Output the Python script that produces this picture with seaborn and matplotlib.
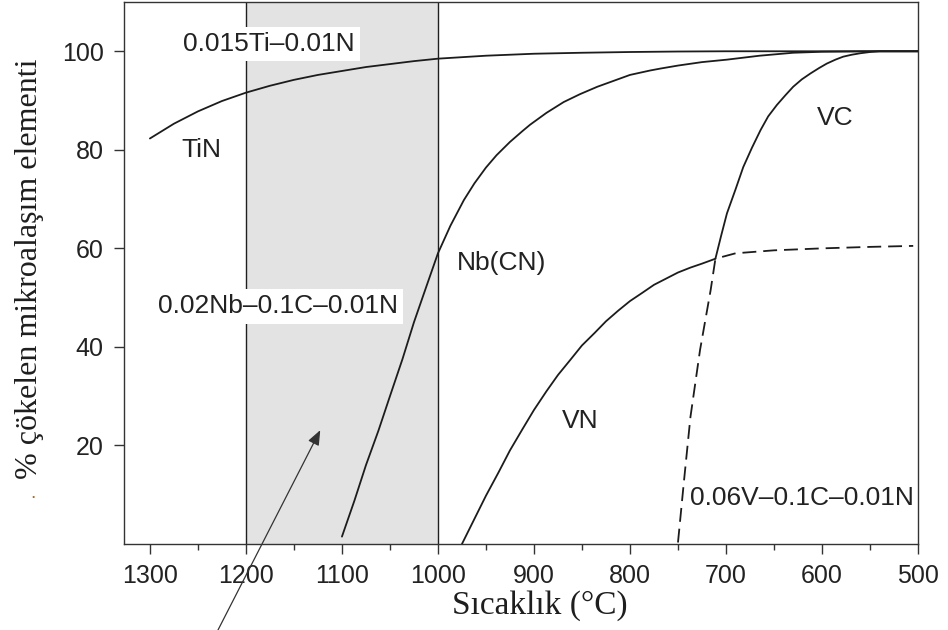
import matplotlib
matplotlib.use("Agg")
import matplotlib.pyplot as plt
import seaborn as sns

# ---------------- data ----------------
tin_temp = [1300, 1275, 1250, 1225, 1200, 1175, 1150, 1125, 1100, 1075, 1050, 1025, 1000,
            950, 900, 850, 800, 750, 700, 600, 500]
tin_pct = [82.3, 85.3, 87.8, 89.9, 91.6, 93.0, 94.2, 95.2, 96.0, 96.8, 97.4, 98.0, 98.5,
           99.1, 99.5, 99.7, 99.85, 99.95, 100, 100, 100]

nb_temp = [1100, 1087, 1075, 1062, 1050, 1037, 1025, 1012, 1000, 987, 973, 962, 950, 939,
           925, 912, 904, 887, 869, 852, 834, 817, 800, 779, 768, 750, 725, 699, 665,
           630, 600, 550, 500]
nb_pct = [1.5, 8.8, 16.0, 23.0, 30.0, 37.5, 45.0, 52.3, 59.0, 64.6, 69.8, 73.2, 76.4, 78.9,
          81.6, 83.8, 85.1, 87.5, 89.7, 91.3, 92.8, 94.0, 95.2, 96.1, 96.5, 97.1, 97.8, 98.3,
          99.1, 99.7, 99.9, 100, 100]

vn_temp = [975, 962, 950, 937, 925, 912, 900, 887, 875, 862, 850, 837, 825, 812, 800,
           787, 775, 762, 750, 737, 725, 711]
vn_pct = [0.0, 5.1, 9.8, 14.5, 19.0, 23.3, 27.2, 31.0, 34.3, 37.4, 40.3, 42.8, 45.2,
          47.4, 49.3, 51.0, 52.6, 53.9, 55.1, 56.1, 56.9, 57.9]

vn_ext_temp = [711, 690, 650, 600, 550, 505]
vn_ext_pct = [57.9, 59.0, 59.6, 60.0, 60.3, 60.5]

vc_low_temp = [750, 744, 737, 727, 716, 711]
vc_low_pct = [0.3, 12.3, 25.8, 39.4, 51.5, 57.9]

vc_temp = [711, 705, 699, 690, 682, 673, 664, 656, 647, 638, 630, 621, 612, 603, 595,
           586, 578, 569, 560, 550, 540, 520, 500]
vc_pct = [57.9, 62.6, 67.1, 72.0, 76.5, 80.4, 84.0, 86.8, 89.1, 91.1, 92.8, 94.3, 95.5,
          96.6, 97.5, 98.3, 98.9, 99.3, 99.6, 99.85, 100, 100, 100]

shaded_bounds = [1200, 1000]
x_major = [1300, 1200, 1100, 1000, 900, 800, 700, 600, 500]
x_minor = [1250, 1150, 1050, 950, 850, 750, 650, 550]
y_major = [20, 40, 60, 80, 100]

curve_labels = ["TiN", "Nb(CN)", "VN", "VC"]
alloy_labels = ["0.015Ti\u20130.01N", "0.02Nb\u20130.1C\u20130.01N", "0.06V\u20130.1C\u20130.01N"]
x_title = "S\u0131cakl\u0131k (\u00b0C)"
y_title = "% \u00e7\u00f6kelen mikroala\u015f\u0131m elementi"

# ---------------- style ----------------
sns.set_theme(style="ticks")
plt.rcParams["font.family"] = ["Liberation Sans", "DejaVu Sans"]
plt.rcParams["lines.scale_dashes"] = False
plt.rcParams["lines.solid_joinstyle"] = "round"

fig = plt.figure(figsize=(9.48, 6.3), dpi=100)
ax = fig.add_axes([124 / 948, 1 - 544 / 630, (918 - 124) / 948, (544 - 2) / 630])

ax.axvspan(shaded_bounds[0], shaded_bounds[1], color="#e3e3e3", lw=0, zorder=0)
for xv in shaded_bounds:
    ax.axvline(xv, color="#1f1f1f", lw=1.0, zorder=1)

line_kw = dict(color="#1c1c1c", lw=1.3, sort=False, estimator=None, ax=ax, legend=False)
dash = (10, 5)
sns.lineplot(x=tin_temp, y=tin_pct, zorder=3, **line_kw)
sns.lineplot(x=nb_temp, y=nb_pct, zorder=3, **line_kw)
sns.lineplot(x=vn_temp, y=vn_pct, zorder=3, **line_kw)
sns.lineplot(x=vn_ext_temp, y=vn_ext_pct, linestyle=(10, dash), zorder=3, **line_kw)
sns.lineplot(x=vc_low_temp, y=vc_low_pct, linestyle=(0, dash), zorder=3, **line_kw)
sns.lineplot(x=vc_temp, y=vc_pct, zorder=3, **line_kw)

ax.set_xlim(1327, 500)
ax.set_ylim(0, 110)
ax.set_xticks(x_major)
ax.set_xticks(x_minor, minor=True)
ax.set_yticks(y_major)
ax.set_xticklabels([str(v) for v in x_major])
ax.set_yticklabels([str(v) for v in y_major])
ax.tick_params(axis="both", which="major", direction="out", length=7.5, width=1.0,
               color="#333333", labelsize=18, labelcolor="#222222", pad=7)
ax.tick_params(axis="x", which="minor", direction="out", length=4, width=1.0, color="#333333")
ax.tick_params(axis="y", which="minor", length=0)
for sp in ax.spines.values():
    sp.set_visible(True)
    sp.set_color("#333333")
    sp.set_linewidth(1.0)
ax.set_xlabel("")
ax.set_ylabel("")

txt_kw = dict(ha="center", va="baseline", fontsize=19, color="#222222", zorder=5)
box = dict(boxstyle="square,pad=0.2", fc="white", ec="none")
ax.text(1246, 78.6, curve_labels[0], **txt_kw)
ax.text(933.6, 55.6, curve_labels[1], **txt_kw)
ax.text(851.8, 23.5, curve_labels[2], **txt_kw)
ax.text(586, 85.0, curve_labels[3], **txt_kw)
ax.text(1176.3, 100.1, alloy_labels[0], bbox=box, **txt_kw)
ax.text(1166.9, 46.8, alloy_labels[1], bbox=box, **txt_kw)
ax.text(621, 7.9, alloy_labels[2], **txt_kw)

ax.annotate("", xy=(1122.6, 23.1), xytext=(1230, -17.8), annotation_clip=False,
            arrowprops=dict(arrowstyle="-|>,head_length=0.45,head_width=0.18",
                            mutation_scale=20, color="#333333", lw=0.9,
                            shrinkA=0, shrinkB=0), zorder=6)

fig.text(540 / 948, 1 - 606 / 630, x_title, ha="center", va="center", fontsize=24,
         family="Liberation Serif", color="#1e1e1e")
fig.text(30 / 948, 1 - 268.5 / 630, y_title, rotation=90, ha="center", va="center",
         fontsize=23, family="Liberation Serif", color="#1e1e1e")
fig.text(33 / 948, 1 - 498 / 630, ".", ha="center", va="baseline", fontsize=14,
         color="#b0682a")

fig.savefig("out.png", dpi=100)
